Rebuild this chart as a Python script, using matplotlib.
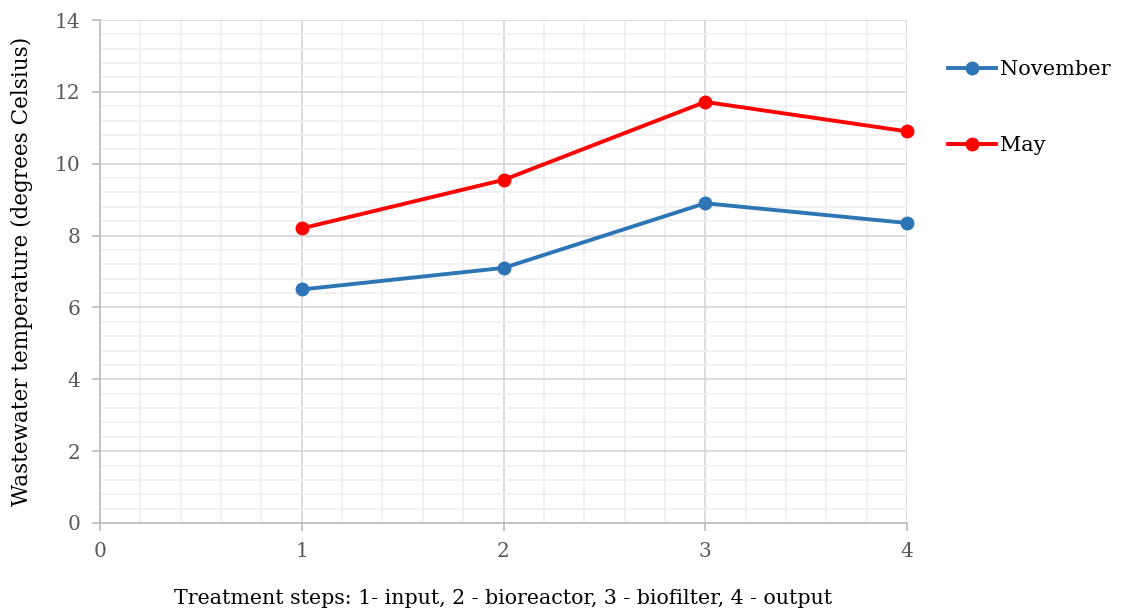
import matplotlib
matplotlib.use("Agg")
import matplotlib.pyplot as plt
from matplotlib.ticker import MultipleLocator
from matplotlib.lines import Line2D

steps = [1, 2, 3, 4]
november = [6.5, 7.1, 8.9, 8.35]
may = [8.2, 9.55, 11.72, 10.9]
series_names = ["November", "May"]
colors = ["#2E75B6", "#FF0000"]

plt.rcParams['font.family'] = ['DejaVu Serif']
fig = plt.figure(figsize=(11.22, 6.15), dpi=100)
W, H = 1122, 615
left, right, top, bottom = 100, 907, 20, 523
ax = fig.add_axes([left / W, 1 - bottom / H, (right - left) / W, (bottom - top) / H])

ax.set_xlim(0, 4)
ax.set_ylim(0, 14)
ax.xaxis.set_major_locator(MultipleLocator(1))
ax.xaxis.set_minor_locator(MultipleLocator(0.2))
ax.yaxis.set_major_locator(MultipleLocator(2))
ax.yaxis.set_minor_locator(MultipleLocator(0.4))
ax.grid(which='major', color='#D9D9D9', linewidth=1.3)
ax.grid(which='minor', color='#F0F0F0', linewidth=1.3)
ax.set_axisbelow(True)
for s in ['top', 'right']:
    ax.spines[s].set_visible(False)
for s in ['left', 'bottom']:
    ax.spines[s].set_color('#BFBFBF')
    ax.spines[s].set_linewidth(1.3)
ax.tick_params(which='major', length=6, width=1.3, color='#BFBFBF', labelsize=14.5, labelcolor='#595959', pad=8)
ax.tick_params(which='minor', length=0)

for vals, name, c in zip([november, may], series_names, colors):
    ax.plot(steps, vals, color=c, linewidth=2.8, marker='o', markersize=9, label=name, clip_on=False, zorder=3)

ax.set_xlabel("Treatment steps: 1- input, 2 - bioreactor, 3 - biofilter, 4 - output", fontsize=14.8, labelpad=20)
ax.set_ylabel("Wastewater temperature (degrees Celsius)", fontsize=15.5, labelpad=16)

handles = [Line2D([], [], color=c, linewidth=2.8, marker='o', markersize=9) for c in colors]
fig.legend(handles, series_names, loc='upper left', bbox_to_anchor=(940 / W, 1 - 52 / H),
           frameon=False, fontsize=15, handlelength=2.3, handletextpad=0.2, labelspacing=2.72,
           borderpad=0.4, borderaxespad=0)

fig.savefig("out.png", dpi=100)
